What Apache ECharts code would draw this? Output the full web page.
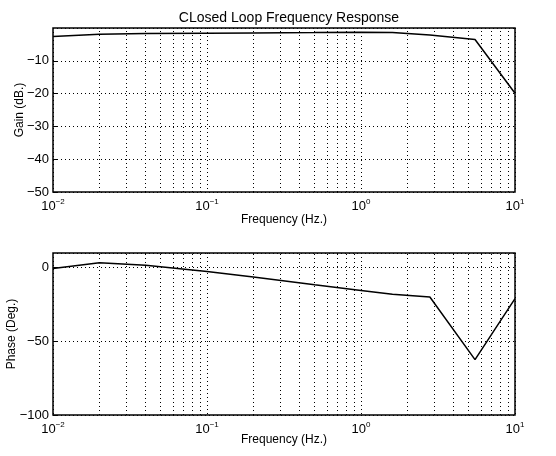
<!DOCTYPE html>
<html>
<head>
<meta charset="utf-8">
<script src="https://cdn.jsdelivr.net/npm/echarts@6/dist/echarts.min.js"></script>
<style>
  html, body { margin: 0; padding: 0; background: #fff; }
  #chart { width: 556px; height: 456px; }
</style>
</head>
<body>
<div id="chart"></div>
<script>
// 数据
var freq = [0.01, 0.02, 0.04, 0.1, 0.2, 0.5, 1, 1.6, 2.8, 5.5, 10];
var gain = [-2.6, -1.9, -1.7, -1.6, -1.5, -1.4, -1.3, -1.4, -2.1, -3.5, -19.9];
var phase = [-0.5, 3.4, 1.6, -2.5, -6.3, -11.5, -15.4, -18, -19.9, -62.4, -21];
var minorFreq = [0.02, 0.03, 0.04, 0.05, 0.06, 0.07, 0.08, 0.09,
                 0.2, 0.3, 0.4, 0.5, 0.6, 0.7, 0.8, 0.9,
                 2, 3, 4, 5, 6, 7, 8, 9];
var gainTicks = [-50, 0, 10];
var phaseTicks = [-100, 10, 50];

(function () {
  var myEcharts = echarts.init(document.getElementById('chart'))
  var font = 'Liberation Sans, Arial, sans-serif'

  function pairs(ys) {
    return freq.map(function (f, i) { return [f, ys[i]] })
  }

  // 十的幂标签
  function xAxisOf(idx, gap) {
    return {
      type: 'log',
      logBase: 10,
      gridIndex: idx,
      min: 0.01,
      max: 10,
      name: 'Frequency (Hz.)',
      nameLocation: 'middle',
      nameGap: gap,
      nameMoveOverlap: false,
      nameTextStyle: { color: '#000', fontSize: 12, fontFamily: font },
      axisLine: { show: false },
      axisTick: { show: false },
      splitLine: { show: true, lineStyle: { color: '#000', type: [1, 3], width: 1 } },
      axisLabel: {
        margin: 6,
        formatter: function (v) {
          var e = Math.round(Math.log10(v))
          return '{b|10}{s|' + (e < 0 ? '\u2212' + (-e) : e) + '}'
        },
        rich: {
          b: { fontSize: 13, color: '#000', fontFamily: font },
          s: { fontSize: 8, color: '#000', fontFamily: font, verticalAlign: 'top', padding: [0, 0, 8, 0] }
        }
      }
    }
  }

  function yAxisOf(idx, r, name, gap) {
    return {
      type: 'value',
      gridIndex: idx,
      min: r[0],
      max: r[1],
      interval: r[2],
      name: name,
      nameLocation: 'middle',
      nameGap: gap,
      nameRotate: 90,
      nameMoveOverlap: false,
      nameTextStyle: { color: '#000', fontSize: 12, fontFamily: font },
      axisLine: { show: false },
      axisTick: { show: true, inside: true, length: 4, lineStyle: { color: '#000' } },
      splitLine: { show: true, lineStyle: { color: '#000', type: [1, 3], width: 1 } },
      axisLabel: {
        showMaxLabel: false,
        color: '#000',
        fontSize: 13,
        fontFamily: font,
        margin: 4,
        formatter: function (v) { return String(v).replace('-', '\u2212') }
      }
    }
  }

  function lineOf(idx, ys) {
    return {
      type: 'line',
      xAxisIndex: idx,
      yAxisIndex: idx,
      data: pairs(ys),
      symbol: 'none',
      z: 5,
      lineStyle: { color: '#000', width: 1.5 },
      markLine: {
        silent: true,
        symbol: 'none',
        label: { show: false },
        lineStyle: { color: '#000', type: [1, 3], width: 1 },
        data: minorFreq.map(function (f) { return { xAxis: f } })
      }
    }
  }

  var gridBase = { left: 53, right: 41, show: true, borderColor: '#000', borderWidth: 1.5, backgroundColor: 'transparent', outerBoundsMode: 'none', containLabel: false }

  var option = {
    animation: false,
    backgroundColor: '#fff',
    title: {
      text: 'CLosed Loop Frequency Response',
      left: 284,
      textAlign: 'center',
      top: 6,
      textStyle: { color: '#000', fontSize: 14, fontWeight: 'normal', fontFamily: font }
    },
    grid: [
      Object.assign({ top: 28, height: 164 }, gridBase),
      Object.assign({ top: 253, height: 162 }, gridBase)
    ],
    xAxis: [xAxisOf(0, 22), xAxisOf(1, 19)],
    yAxis: [
      yAxisOf(0, gainTicks, 'Gain (dB.)', 27),
      yAxisOf(1, phaseTicks, 'Phase (Deg.)', 35)
    ],
    series: [lineOf(0, gain), lineOf(1, phase)]
  };
  myEcharts.setOption(option)
  window.addEventListener('resize', function () {
    myEcharts.resize()
  })
})();
</script>
</body>
</html>
